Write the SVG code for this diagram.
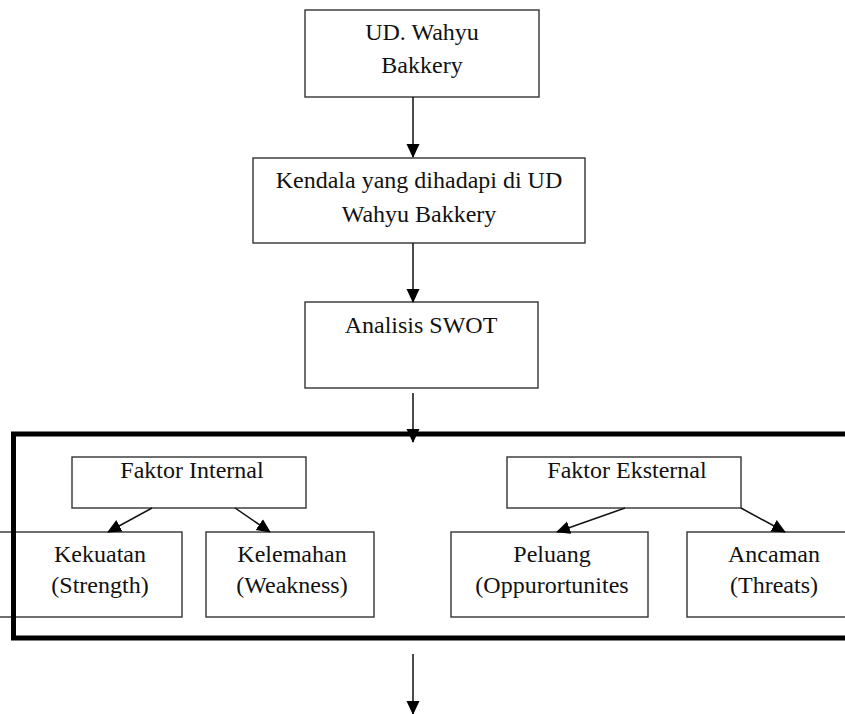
<svg xmlns="http://www.w3.org/2000/svg" width="845" height="714" viewBox="0 0 845 714">
<defs>
<style>
.box{fill:#fff;stroke:#333;stroke-width:1.4}
.t{font-family:"Liberation Serif","Times New Roman",serif;font-size:24px;fill:#111;text-anchor:middle}
.c{stroke:#111;stroke-width:1.5;fill:none}
.frame{stroke:#000;stroke-width:5;fill:none}
</style>
<marker id="ah" markerUnits="userSpaceOnUse" markerWidth="14" markerHeight="14" refX="13" refY="6.5" orient="auto" viewBox="0 0 14 13">
<path d="M0,0 L14,6.5 L0,13 Z" fill="#000"/>
</marker>
</defs>
<rect width="845" height="714" fill="#fff"/>
<g id="n1"><rect class="box" x="305" y="10" width="234" height="87"/><text class="t" x="422" y="40">UD. Wahyu</text><text class="t" x="422" y="73">Bakkery</text></g>
<g id="n2"><rect class="box" x="253" y="158" width="332" height="85"/><text class="t" x="419" y="188">Kendala yang dihadapi di UD</text><text class="t" x="419" y="222">Wahyu Bakkery</text></g>
<g id="n3"><rect class="box" x="305" y="302" width="233" height="86"/><text class="t" x="421" y="333">Analisis SWOT</text></g>
<g id="n4"><rect class="box" x="72" y="457" width="234" height="51"/><text class="t" x="192" y="478">Faktor Internal</text></g>
<g id="n5"><rect class="box" x="-2" y="532" width="184" height="85"/><text class="t" x="100" y="562">Kekuatan</text><text class="t" x="100" y="593">(Strength)</text></g>
<g id="n6"><rect class="box" x="206" y="532" width="168" height="85"/><text class="t" x="292" y="562">Kelemahan</text><text class="t" x="292" y="593">(Weakness)</text></g>
<g id="n7"><rect class="box" x="507" y="457" width="234" height="51"/><text class="t" x="627" y="478">Faktor Eksternal</text></g>
<g id="n8"><rect class="box" x="451" y="532" width="197" height="85"/><text class="t" x="552" y="562">Peluang</text><text class="t" x="552" y="593">(Oppurortunites</text></g>
<g id="n9"><rect class="box" x="687" y="532" width="170" height="85"/><text class="t" x="774" y="562">Ancaman</text><text class="t" x="774" y="593">(Threats)</text></g>
<g id="frame"><path class="frame" d="M850,434 H13.5 V638 H850"/></g>
<g id="connectors">
<line class="c" x1="413" y1="97" x2="413" y2="157" marker-end="url(#ah)"/>
<line class="c" x1="413" y1="243" x2="413" y2="302" marker-end="url(#ah)"/>
<line class="c" x1="413" y1="393" x2="413" y2="442" marker-end="url(#ah)"/>
<line class="c" x1="152" y1="508" x2="108" y2="532" marker-end="url(#ah)"/>
<line class="c" x1="235" y1="508" x2="270" y2="532" marker-end="url(#ah)"/>
<line class="c" x1="625" y1="508" x2="557" y2="532" marker-end="url(#ah)"/>
<line class="c" x1="741" y1="508" x2="785" y2="532" marker-end="url(#ah)"/>
<line class="c" x1="413" y1="654" x2="413" y2="714" marker-end="url(#ah)"/>
</g>
</svg>
